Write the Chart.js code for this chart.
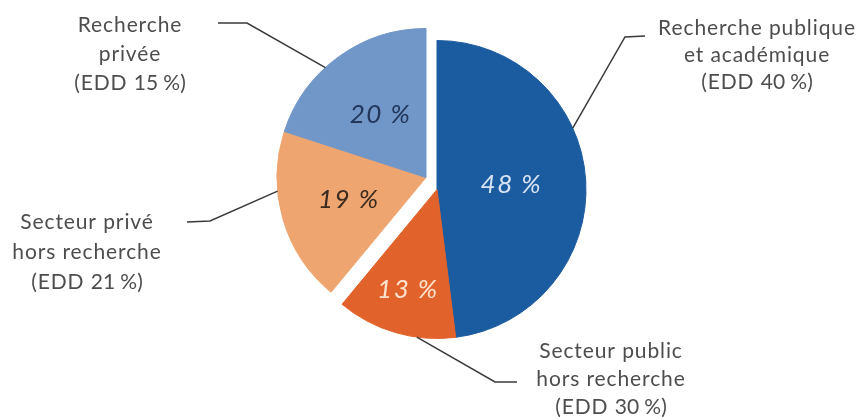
<!DOCTYPE html>
<html lang="fr">
<head>
<meta charset="utf-8">
<script src="https://cdn.jsdelivr.net/npm/chart.js@4.4.1/dist/chart.umd.min.js"></script>
<style>
  html, body { margin: 0; padding: 0; background: #fff; }
  #wrap { width: 867px; height: 419px; position: relative; }
</style>
</head>
<body>
<div id="wrap"><canvas id="chart"></canvas></div>
<script>
// données
const categories = [
    ["Recherche publique", "et académique"],
    ["Secteur public", "hors recherche"],
    ["Secteur privé", "hors recherche"],
    ["Recherche", "privée"],
];
const shares    = [48, 13, 19, 20];   // part (%) dans la part
const eddShares = [40, 30, 21, 15];   // EDD (%)

const sliceColors = ["#1b5ba0", "#e1632b", "#eea56f", "#7196c8"];
const valueColors = ["#d9e4f3", "#fde3cf", "#3b2a20", "#22365a"];

// décalage des deux blocs (bleu+orange / clair+clair)
const groupShift = [[5.5, 6], [5.5, 6], [-5.5, -6], [-5.5, -6]];
const valueRadius = [0.50, 0.70, 0.54, 0.52];

// légendes avec traits de rappel
const callouts = [
    { at: 0.38, elbow: [625, 37],  end: [645, 36],  text: [757, 28],  lh: 27 },
    { at: 0.32, elbow: [495, 382], end: [517, 382], text: [611, 351], lh: 28 },
    { at: 0.66, elbow: [210, 221], end: [187, 222], text: [87, 222],  lh: 30 },
    { at: 0.41, elbow: [247, 23],  end: [218, 23],  text: [130, 25],  lh: 29 },
];

const shiftPlugin = {
    id: "shift",
    afterDatasetsUpdate(chart) {
        const meta = chart.getDatasetMeta(0);
        meta.data.forEach((arc, i) => {
            arc.x += groupShift[i][0];
            arc.y += groupShift[i][1];
        });
    },
};

const labelPlugin = {
    id: "labels",
    afterDatasetsDraw(chart) {
        const ctx = chart.ctx;
        const meta = chart.getDatasetMeta(0);
        ctx.save();
        meta.data.forEach((arc, i) => {
            const { x, y, startAngle, endAngle, outerRadius } = arc;

            // valeur dans la part
            const mid = (startAngle + endAngle) / 2;
            const r = outerRadius * valueRadius[i];
            ctx.font = "italic 400 26px Lato";
            ctx.letterSpacing = "1.5px";
            ctx.fillStyle = valueColors[i];
            ctx.textAlign = "center";
            ctx.textBaseline = "middle";
            ctx.fillText(shares[i] + " %", x + Math.cos(mid) * r, y + Math.sin(mid) * r);

            // trait de rappel
            const c = callouts[i];
            const a = startAngle + (endAngle - startAngle) * c.at;
            ctx.beginPath();
            ctx.moveTo(x + Math.cos(a) * outerRadius, y + Math.sin(a) * outerRadius);
            ctx.lineTo(c.elbow[0], c.elbow[1]);
            ctx.lineTo(c.end[0], c.end[1]);
            ctx.strokeStyle = "#3a3a3a";
            ctx.lineWidth = 1.5;
            ctx.stroke();

            // texte de la légende
            const lines = categories[i].concat(["(EDD " + eddShares[i] + "\u202f%)"]);
            ctx.font = "21px Lato";
            ctx.letterSpacing = "0.9px";
            ctx.fillStyle = "#4d4d4d";
            lines.forEach((line, k) => {
                ctx.fillText(line, c.text[0], c.text[1] + k * c.lh);
            });
        });
        ctx.restore();
    },
};

new Chart(document.getElementById("chart"), {
    type: "pie",
    data: {
        labels: categories.map(l => l.join(" ")),
        datasets: [{
            data: shares,
            backgroundColor: sliceColors,
            borderColor: sliceColors,
            borderWidth: 1,
        }],
    },
    options: {
        responsive: true,
        maintainAspectRatio: false,
        animation: false,
        events: [],
        layout: { padding: { left: 282, right: 286, top: 34, bottom: 86 } },
        plugins: {
            legend: { display: false },
            tooltip: { enabled: false },
        },
    },
    plugins: [shiftPlugin, labelPlugin],
});
</script>
</body>
</html>
